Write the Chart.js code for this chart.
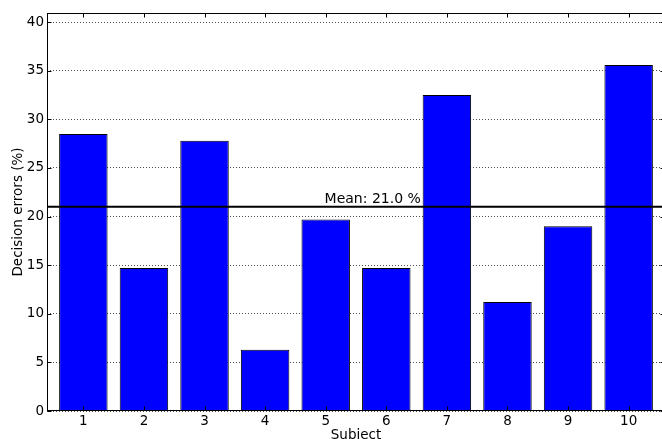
<!DOCTYPE html>
<html>
<head>
<meta charset="utf-8">
<script src="https://cdn.jsdelivr.net/npm/chart.js@4.4.1/dist/chart.umd.min.js"></script>
<style>
  html, body { margin: 0; padding: 0; background: #fff; overflow: hidden; }
</style>
</head>
<body>
<canvas id="errorChart" width="668" height="450"></canvas>
<script>
const subjects = [1, 2, 3, 4, 5, 6, 7, 8, 9, 10];
const errors = [28.5, 14.7, 27.8, 6.3, 19.7, 14.7, 32.5, 11.2, 19.0, 35.6];
const yTicks = [0, 5, 10, 15, 20, 25, 30, 35, 40];
const yMax = 40.94;
const xMin = 0.4;
const xMax = 10.6;

const mean = errors.reduce((a, b) => a + b, 0) / errors.length;
const font = { family: "'DejaVu Sans', sans-serif", size: 13.5 };

// frame, inward ticks and the mean line, drawn on top like matplotlib
const framePlugin = {
  id: "frame",
  afterDraw(chart) {
    const { ctx, chartArea: a, scales: { x, y } } = chart;
    ctx.save();
    ctx.strokeStyle = "#000";

    const my = y.getPixelForValue(mean);
    ctx.lineWidth = 2;
    ctx.beginPath();
    ctx.moveTo(a.left, my);
    ctx.lineTo(a.right, my);
    ctx.stroke();

    ctx.font = "14px 'DejaVu Sans', sans-serif";
    ctx.fillStyle = "#000";
    ctx.textAlign = "right";
    ctx.textBaseline = "alphabetic";
    ctx.fillText(`Mean: ${mean.toFixed(1)} %`, x.getPixelForValue(6.57), my - 4);

    ctx.lineWidth = 1;
    const l = Math.round(a.left) + 0.5, r = Math.round(a.right) - 0.5;
    const t = Math.round(a.top) + 0.5, b = Math.round(a.bottom) - 0.5;
    ctx.strokeRect(l, t, r - l, b - t);

    ctx.beginPath();
    yTicks.forEach(v => {
      const py = Math.round(y.getPixelForValue(v)) + 0.5;
      ctx.moveTo(l, py); ctx.lineTo(l + 4, py);
      ctx.moveTo(r, py); ctx.lineTo(r - 4, py);
    });
    subjects.forEach(v => {
      const px = Math.round(x.getPixelForValue(v)) + 0.5;
      ctx.moveTo(px, b); ctx.lineTo(px, b - 4);
      ctx.moveTo(px, t); ctx.lineTo(px, t + 4);
    });
    ctx.stroke();
    ctx.restore();
  }
};

new Chart(document.getElementById("errorChart"), {
  type: "bar",
  data: {
    datasets: [{
      data: subjects.map((s, i) => ({ x: s, y: errors[i] })),
      backgroundColor: "#0000ff",
      borderColor: "#000",
      borderWidth: 1,
      barPercentage: 0.8,
      categoryPercentage: 1
    }]
  },
  options: {
    responsive: false,
    animation: false,
    layout: { padding: { top: 13, right: 3, left: 0, bottom: 0 } },
    plugins: { legend: { display: false }, tooltip: { enabled: false } },
    scales: {
      x: {
        type: "linear",
        min: xMin,
        max: xMax,
        offset: false,
        afterBuildTicks: s => { s.ticks = subjects.map(v => ({ value: v })); },
        afterFit: s => { s.height = 39; },
        grid: { display: false, drawTicks: false },
        border: { display: false },
        ticks: { padding: 2, color: "#000", font: font, autoSkip: false, maxRotation: 0, minRotation: 0 },
        title: { display: true, text: "Subject", color: "#000", font: font, padding: { top: 0, bottom: 6 } }
      },
      y: {
        min: 0,
        max: yMax,
        z: 1,
        afterBuildTicks: s => { s.ticks = yTicks.map(v => ({ value: v })); },
        afterFit: s => { s.width = 47; },
        grid: { color: "rgba(0,0,0,0.7)", lineWidth: 1, drawTicks: false },
        border: { display: false, dash: [1, 2] },
        ticks: { padding: 3, color: "#000", font: font },
        title: { display: true, text: "Decision errors (%)", color: "#000", font: font, padding: { top: 10, bottom: 0 } }
      }
    }
  },
  plugins: [framePlugin]
});
</script>
</body>
</html>
